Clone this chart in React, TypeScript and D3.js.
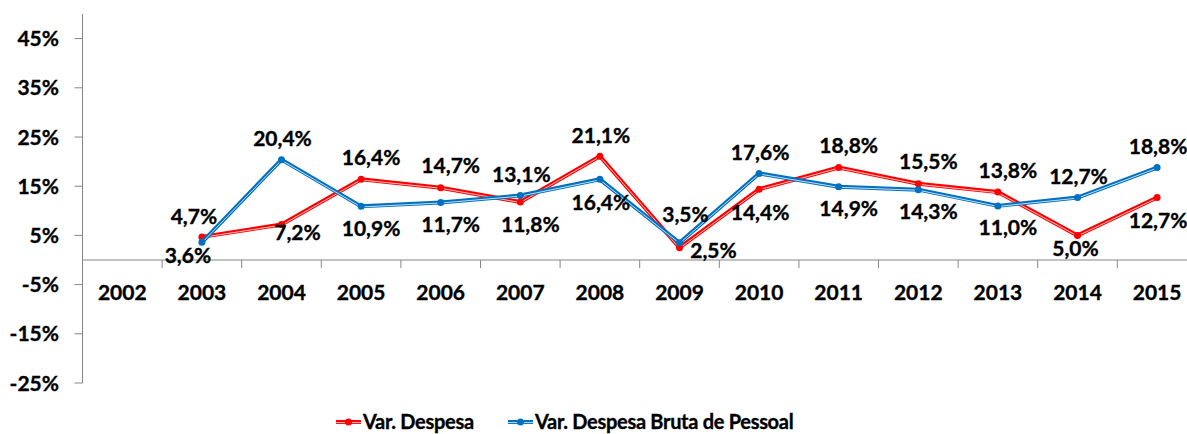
import React, { useEffect, useRef } from 'react';
import * as d3 from 'd3';

const years = ['2002', '2003', '2004', '2005', '2006', '2007', '2008', '2009', '2010', '2011', '2012', '2013', '2014', '2015'];
const yTicks = [-25, -15, -5, 5, 15, 25, 35, 45];

// Var. Despesa (no value for 2002)
const despesa = [null, 4.7, 7.2, 16.4, 14.7, 11.8, 21.1, 2.5, 14.4, 18.8, 15.5, 13.8, 5.0, 12.7];
// Var. Despesa Bruta de Pessoal
const pessoal = [null, 3.6, 20.4, 10.9, 11.7, 13.1, 16.4, 3.5, 17.6, 14.9, 14.3, 11.0, 12.7, 18.8];

// where each data label sits relative to its point
const despesaPos = ['', 'al', 'br', 'a', 'a', 'b', 'a0', 'r', 'b0', 'a', 'a', 'a', 'bs', 'b0'];
const pessoalPos = ['', 'bl', 'a0', 'b', 'b', 'a0', 'b0', 'at', 'a0', 'b', 'b', 'b', 'a0', 'a0'];

const labelOffset: Record<string, [number, number]> = {
  a: [10, -22],
  b: [10, 22],
  a0: [1, -21],
  b0: [1, 23],
  r: [34, 3],
  br: [16, 8],
  bl: [-14, 13],
  bs: [-2, 13],
  al: [-8, -20],
  at: [6, -28],
};

const W = 1187;
const H = 434;
const FONT = 'Lato, "Open Sans", sans-serif';

export default function App() {
  const ref = useRef<SVGSVGElement>(null);

  useEffect(() => {
    const svg = d3.select(ref.current);
    svg.selectAll('*').remove();

    const left = 82.5;
    const band = 79.6;
    const x = d3.scaleBand().domain(years).range([left, left + band * years.length]);
    const y = d3.scaleLinear().domain([-25, 50]).range([383, 14]);
    const axisColor = '#868686';

    const boldText = (sel: d3.Selection<SVGTextElement, unknown, null, undefined>, size: number) =>
      sel.attr('font-family', FONT).attr('font-weight', 'bold').attr('font-size', size)
        .attr('fill', '#000').attr('stroke', '#000').attr('stroke-width', 0.35);

    // y axis
    svg.append('line')
      .attr('x1', left).attr('x2', left)
      .attr('y1', y(50)).attr('y2', y(-25))
      .attr('stroke', axisColor).attr('stroke-width', 1);
    yTicks.forEach(t => {
      svg.append('line')
        .attr('x1', left - 8).attr('x2', left)
        .attr('y1', y(t)).attr('y2', y(t))
        .attr('stroke', axisColor);
      svg.append('text')
        .attr('x', 59).attr('y', y(t))
        .attr('dy', '0.36em')
        .attr('text-anchor', 'end')
        .call(s => boldText(s as any, 21))
        .text(`${t}%`);
    });

    // zero line and category ticks
    svg.append('line')
      .attr('x1', left).attr('x2', W)
      .attr('y1', y(0)).attr('y2', y(0))
      .attr('stroke', axisColor);
    years.forEach((yr, i) => {
      if (i > 0) {
        svg.append('line')
          .attr('x1', x(yr)!).attr('x2', x(yr)!)
          .attr('y1', y(0)).attr('y2', y(0) + 8)
          .attr('stroke', axisColor);
      }
      svg.append('text')
        .attr('x', x(yr)! + x.bandwidth() / 2).attr('y', 292)
        .attr('dy', '0.36em')
        .attr('text-anchor', 'middle')
        .call(s => boldText(s as any, 21))
        .text(yr);
    });

    const cx = (i: number) => x(years[i])! + x.bandwidth() / 2;

    const drawSeries = (vals: (number | null)[], color: string) => {
      const pts = vals.map((v, i) => ({ v, i })).filter(d => d.v !== null) as { v: number; i: number }[];
      const line = d3.line<{ v: number; i: number }>().x(d => cx(d.i)).y(d => y(d.v));
      svg.append('path').attr('d', line(pts)).attr('fill', 'none')
        .attr('stroke', color).attr('stroke-width', 4).attr('stroke-linejoin', 'round');
      svg.append('path').attr('d', line(pts)).attr('fill', 'none')
        .attr('stroke', '#fff').attr('stroke-width', 0.9).attr('stroke-opacity', 0.85)
        .attr('transform', 'translate(0,0.6)');
      svg.append('g').selectAll('circle').data(pts).join('circle')
        .attr('cx', d => cx(d.i)).attr('cy', d => y(d.v)).attr('r', 3.5)
        .attr('fill', color);
    };

    const drawLabels = (vals: (number | null)[], pos: string[]) => {
      vals.forEach((v, i) => {
        if (v === null) return;
        const [dx, dy] = labelOffset[pos[i]];
        svg.append('text')
          .attr('x', cx(i) + dx).attr('y', y(v) + dy)
          .attr('dy', '0.36em')
          .attr('text-anchor', 'middle')
          .call(s => boldText(s as any, 21))
          .text(`${v.toFixed(1).replace('.', ',')}%`);
      });
    };

    drawSeries(despesa, '#FF0000');
    drawSeries(pessoal, '#0070C0');
    drawLabels(despesa, despesaPos);
    drawLabels(pessoal, pessoalPos);

    // legend
    const legend = [
      { name: 'Var. Despesa', color: '#FF0000', x: 336 },
      { name: 'Var. Despesa Bruta de Pessoal', color: '#0070C0', x: 508 },
    ];
    legend.forEach(l => {
      const g = svg.append('g').attr('transform', `translate(${l.x},422)`);
      g.append('line').attr('x1', 0).attr('x2', 25).attr('y1', 0).attr('y2', 0)
        .attr('stroke', l.color).attr('stroke-width', 4);
      g.append('line').attr('x1', 0).attr('x2', 25).attr('y1', 0.6).attr('y2', 0.6)
        .attr('stroke', '#fff').attr('stroke-width', 0.9).attr('stroke-opacity', 0.85);
      g.append('circle').attr('cx', 12.5).attr('cy', 0).attr('r', 3.5).attr('fill', l.color);
      g.append('text').attr('x', 27).attr('y', 0).attr('dy', '0.36em')
        .call(s => boldText(s as any, 20))
        .attr('letter-spacing', -0.3)
        .text(l.name);
    });
  }, []);

  return (
    <svg ref={ref} width={W} height={H}
      style={{ position: 'absolute', left: 0, top: 0, background: '#fff' }} />
  );
}
